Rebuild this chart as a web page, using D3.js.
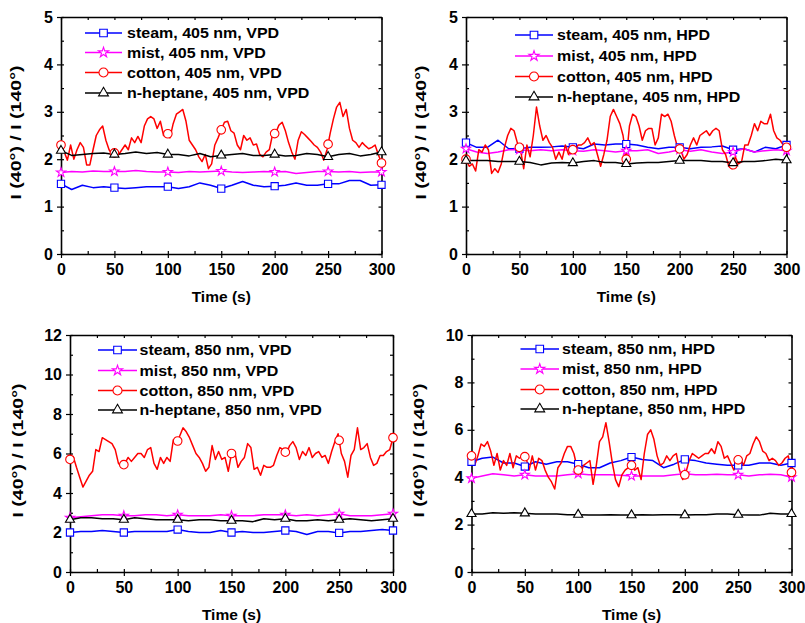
<!DOCTYPE html>
<html><head><meta charset="utf-8">
<script src="https://cdn.jsdelivr.net/npm/d3@7/dist/d3.min.js"></script>
<style>
body{margin:0;background:#fff}
svg{display:block}
text{font-family:"Liberation Sans",Arial,sans-serif;font-weight:bold;fill:#000}
.tick text{font-size:16px}
.domain{stroke:#000;stroke-width:1.6}
.tick line{stroke:#000;stroke-width:1.2}
</style>
</head><body>
<svg id="c" width="805" height="623"></svg>
<script>
// ---------- data ----------
const timeFine = d3.range(0, 301, 3);     // sample times (s) of the cotton traces
const timeCoarse = d3.range(0, 301, 10);  // sample times (s) of the smoother traces
const xTicks = [0, 50, 100, 150, 200, 250, 300];
const yTicks405 = [0, 1, 2, 3, 4, 5];
const yTicks850V = [0, 2, 4, 6, 8, 10, 12];
const yTicks850H = [0, 2, 4, 6, 8, 10];
const seriesNames = ["steam", "mist", "cotton", "n-heptane"];
const seriesColors = ["#0000ff", "#ff00ff", "#ff0000", "#000000"];
const panelLabels = ["405 nm, VPD", "405 nm, HPD", "850 nm, VPD", "850 nm, HPD"];
const xTitle = "Time (s)";
const yTitle = "I (40°) / I (140°)";

// 405 nm, VPD
const steam405V = [1.48,1.36,1.45,1.40,1.42,1.40,1.38,1.40,1.42,1.42,1.42,1.38,1.42,1.50,1.45,1.38,1.45,1.53,1.45,1.42,1.43,1.45,1.50,1.45,1.45,1.48,1.48,1.55,1.55,1.45,1.46];
const mist405V = [1.72,1.74,1.73,1.75,1.74,1.74,1.74,1.76,1.74,1.73,1.73,1.72,1.74,1.73,1.74,1.75,1.73,1.72,1.73,1.74,1.73,1.74,1.70,1.72,1.74,1.74,1.73,1.74,1.72,1.73,1.73];
const cotton405V = [2.30,2.15,1.98,2.30,2.00,2.20,2.35,2.25,1.88,1.88,
 2.20,2.50,2.62,2.70,2.40,2.20,2.10,2.15,2.10,2.20,
 2.30,2.20,2.45,2.35,2.48,2.35,2.70,2.85,2.90,2.85,
 2.65,2.80,2.50,2.58,2.45,2.75,2.95,3.00,3.05,2.80,
 2.40,2.30,2.20,2.05,1.95,2.10,1.80,1.90,2.30,2.45,
 2.62,2.78,2.80,2.60,2.55,2.30,2.20,2.50,2.40,2.45,
 2.30,2.32,2.10,2.05,2.15,2.20,2.52,2.55,2.72,2.78,
 2.60,2.35,2.15,2.00,2.40,2.58,2.52,2.45,2.38,2.30,
 2.25,2.15,1.98,2.20,2.55,2.85,3.10,3.20,2.90,3.05,
 2.65,2.40,2.35,2.25,2.35,2.28,2.22,2.25,2.30,2.10,
 1.92];
const hept405V = [2.18,2.08,2.10,2.12,2.13,2.10,2.12,2.15,2.12,2.14,2.10,2.10,2.07,2.12,2.05,2.08,2.10,2.12,2.08,2.08,2.10,2.07,2.08,2.12,2.10,2.05,2.10,2.12,2.07,2.10,2.15];

// 405 nm, HPD
const steam405H = [2.35,2.25,2.25,2.40,2.22,2.22,2.25,2.25,2.26,2.28,2.25,2.22,2.32,2.30,2.32,2.32,2.30,2.25,2.22,2.25,2.25,2.22,2.25,2.26,2.28,2.20,2.22,2.15,2.25,2.22,2.30];
const mist405H = [2.22,2.15,2.12,2.15,2.20,2.20,2.18,2.20,2.18,2.20,2.18,2.17,2.20,2.18,2.15,2.18,2.18,2.20,2.12,2.15,2.20,2.17,2.20,2.15,2.12,2.15,2.22,2.15,2.18,2.20,2.18];
const cotton405H = [2.00,1.85,1.90,1.75,2.20,2.15,2.30,2.20,1.70,1.80,
 1.72,1.90,2.25,2.50,2.65,2.60,2.35,2.20,1.80,2.30,
 2.05,2.50,3.10,2.70,2.40,2.50,2.35,2.25,2.00,2.15,
 2.00,2.30,2.10,2.20,2.20,2.30,2.30,2.35,2.45,2.30,
 2.35,2.10,1.85,2.10,2.40,2.90,3.05,2.90,2.75,2.50,
 2.00,2.70,2.95,2.90,2.70,2.40,2.60,2.65,2.65,2.30,
 2.45,2.95,2.90,2.95,2.80,2.50,2.25,2.20,2.00,2.10,
 2.30,2.45,2.30,2.50,2.55,2.60,2.50,2.60,2.65,2.60,
 2.20,2.10,1.85,1.80,2.05,1.90,1.95,2.30,2.30,2.50,
 2.75,2.60,2.80,2.75,2.75,2.95,2.60,2.45,2.40,2.30,
 2.25];
const hept405H = [1.97,1.97,1.97,1.95,1.95,1.95,1.93,1.88,1.92,1.93,1.92,1.95,1.97,1.93,1.93,1.90,1.92,1.93,1.93,1.95,1.97,1.97,1.97,1.95,1.95,1.92,1.95,1.95,1.97,2.00,1.98];

// 850 nm, VPD
const steam850V = [2.00,2.05,2.05,2.10,2.05,2.00,2.05,2.05,2.05,2.05,2.15,2.05,2.00,2.00,2.10,2.00,2.05,2.00,2.00,2.05,2.10,2.05,1.90,2.05,2.05,1.98,2.05,2.05,2.10,2.15,2.10];
const mist850V = [2.75,2.80,2.85,2.90,2.90,2.85,2.85,2.90,2.90,2.85,2.90,2.85,2.85,2.85,2.90,2.85,2.85,2.85,2.90,2.90,2.90,2.85,2.90,2.85,2.90,2.95,2.85,2.85,2.85,2.90,2.95];
const cotton850V = [5.70,5.85,5.30,4.80,4.30,4.60,4.90,5.10,6.20,6.10,
 6.80,6.70,6.60,6.50,6.20,5.50,5.30,5.50,5.80,5.60,
 5.80,6.00,6.00,5.80,6.20,6.30,5.50,5.20,5.80,5.50,
 5.80,5.60,6.70,6.50,6.90,7.30,7.10,6.80,6.40,6.00,
 5.80,5.50,5.10,5.30,6.40,5.70,6.10,5.70,5.80,5.10,
 6.00,6.10,5.30,5.60,5.80,6.50,6.30,5.20,5.30,4.90,
 5.40,5.30,5.30,5.40,5.90,6.30,6.20,6.00,6.40,6.60,
 6.30,5.70,6.10,5.90,6.30,5.80,6.00,6.10,5.80,5.90,
 5.50,6.10,6.60,7.00,6.00,5.60,4.80,5.90,6.20,7.30,
 6.20,6.30,6.50,5.80,5.40,5.50,5.90,5.90,6.10,6.20,
 6.80];
const hept850V = [2.65,2.75,2.75,2.70,2.70,2.65,2.75,2.70,2.65,2.65,2.65,2.60,2.65,2.65,2.60,2.60,2.60,2.55,2.70,2.65,2.70,2.60,2.60,2.65,2.60,2.65,2.70,2.65,2.60,2.65,2.70];

// 850 nm, HPD
const steam850H = [4.65,4.80,4.85,4.60,4.60,4.45,4.65,4.55,4.65,4.65,4.55,4.40,4.40,4.60,4.70,4.85,4.75,4.70,4.40,4.55,4.75,4.70,4.60,4.55,4.50,4.50,4.50,4.60,4.60,4.50,4.60];
const mist850H = [3.95,4.05,4.15,4.10,4.05,4.10,4.05,4.05,4.05,4.10,4.15,4.10,4.10,4.10,4.08,4.05,4.05,4.05,4.05,4.10,4.15,4.10,4.10,4.12,4.10,4.10,4.05,4.10,4.12,4.10,4.00];
const cotton850H = [4.90,4.50,4.90,5.40,5.30,5.50,5.10,4.50,5.00,4.30,
 4.70,4.50,5.00,4.40,4.90,4.80,4.90,4.85,4.30,4.90,
 4.30,4.80,4.70,4.30,4.00,3.80,3.50,4.40,4.60,5.00,
 5.30,5.30,5.00,4.40,4.10,4.50,4.60,4.70,3.70,4.50,
 5.50,5.70,6.30,5.50,4.60,3.90,3.60,4.10,4.30,4.40,
 4.50,4.30,4.40,3.90,5.00,5.80,6.00,5.60,4.90,4.50,
 4.60,4.90,4.70,4.90,5.00,4.30,3.90,4.20,4.70,5.00,
 4.90,4.80,4.90,5.00,5.00,5.20,5.00,5.50,5.30,4.80,
 4.90,4.60,4.30,4.70,4.80,4.50,4.90,5.00,5.40,5.70,
 5.50,5.10,5.00,4.70,4.80,4.70,4.50,4.60,4.80,4.90,
 4.20];
const hept850H = [2.45,2.45,2.50,2.48,2.50,2.48,2.45,2.45,2.45,2.42,2.42,2.40,2.40,2.42,2.40,2.40,2.42,2.40,2.42,2.42,2.40,2.42,2.42,2.45,2.45,2.42,2.40,2.40,2.48,2.45,2.45];

// ---------- layout ----------
const symbols = [d3.symbolSquare, d3.symbolStar, d3.symbolCircle, d3.symbolTriangle];
const symSizes = [52, 26, 58, 36];
const seriesTimes = [timeCoarse, timeCoarse, timeFine, timeCoarse];

const panels = [
  {box:[61,381.5,17,254], yMax:5, yTicks:yTicks405, yMinor:0.5, data:[steam405V,mist405V,cotton405V,hept405V],
   leg:{x0:85,x1:122,xt:127,rows:[33,52.5,72.5,93]}, yTitleX:15},
  {box:[466,786.5,17,254], yMax:5, yTicks:yTicks405, yMinor:0.5, data:[steam405H,mist405H,cotton405H,hept405H],
   leg:{x0:515,x1:553,xt:557,rows:[35,56,76.5,97]}, yTitleX:420},
  {box:[70,393,335,572], yMax:12, yTicks:yTicks850V, yMinor:1, data:[steam850V,mist850V,cotton850V,hept850V],
   leg:{x0:98,x1:137,xt:139.5,rows:[350,370.5,390.5,410]}, yTitleX:17},
  {box:[471.5,791.5,335,572], yMax:10, yTicks:yTicks850H, yMinor:1, data:[steam850H,mist850H,cotton850H,hept850H],
   leg:{x0:520.5,x1:559,xt:562,rows:[349,369,389.5,409]}, yTitleX:418}
];

const svg = d3.select("#c");

function valueAt(times, vals, t) {
  const i = d3.bisectLeft(times, t);
  if (times[i] === t) return vals[i];
  const t0 = times[i-1], t1 = times[i];
  return vals[i-1] + (vals[i]-vals[i-1]) * (t-t0)/(t1-t0);
}

panels.forEach((p, pi) => {
  const [L, R, T, B] = p.box;
  const x = d3.scaleLinear([0, 300], [L, R]);
  const y = d3.scaleLinear([0, p.yMax], [B, T]);
  const g = svg.append("g");
  const xAll = d3.range(0, 301, 25);
  const yAll = d3.range(0, p.yMax + 1e-9, p.yMinor);

  const clean = s => s.attr("font-size", null).attr("font-family", null);

  g.append("g").attr("transform", `translate(0,${B})`)
    .call(d3.axisBottom(x).tickValues(xAll).tickSize(-3).tickFormat(""))
    .call(s => s.select(".domain").remove());
  g.append("g").attr("transform", `translate(${L},0)`)
    .call(d3.axisLeft(y).tickValues(yAll).tickSize(-3).tickFormat(""))
    .call(s => s.select(".domain").remove());
  g.append("g").attr("transform", `translate(0,${T})`)
    .call(d3.axisTop(x).tickValues(xAll).tickSize(-3).tickSizeOuter(0).tickFormat(""));
  g.append("g").attr("transform", `translate(${R},0)`)
    .call(d3.axisRight(y).tickValues(yAll).tickSize(-3).tickSizeOuter(0).tickFormat(""));
  g.append("g").attr("transform", `translate(0,${B})`)
    .call(d3.axisBottom(x).tickValues(xTicks).tickSize(4).tickSizeOuter(0).tickPadding(6).tickFormat(d3.format("d")))
    .call(clean);
  g.append("g").attr("transform", `translate(${L},0)`)
    .call(d3.axisLeft(y).tickValues(p.yTicks).tickSize(4).tickSizeOuter(0).tickPadding(4).tickFormat(d3.format("d")))
    .call(clean);

  p.data.forEach((vals, si) => {
    const times = seriesTimes[si];
    const line = d3.line().x((d, i) => x(times[i])).y(d => y(d));
    g.append("path").datum(vals)
      .attr("d", line)
      .attr("fill", "none")
      .attr("stroke", seriesColors[si])
      .attr("stroke-width", 1.5)
      .attr("stroke-linejoin", "round");
  });
  p.data.forEach((vals, si) => {
    const times = seriesTimes[si];
    g.append("g").selectAll("path").data(xTicks).join("path")
      .attr("transform", t => `translate(${x(t)},${y(valueAt(times, vals, t))})`)
      .attr("d", d3.symbol().type(symbols[si]).size(symSizes[si]))
      .attr("fill", "#fff")
      .attr("stroke", seriesColors[si])
      .attr("stroke-width", 1.1);
  });

  seriesNames.forEach((name, si) => {
    const ry = p.leg.rows[si];
    const c = seriesColors[si];
    g.append("line").attr("x1", p.leg.x0).attr("x2", p.leg.x1).attr("y1", ry).attr("y2", ry)
      .attr("stroke", c).attr("stroke-width", 1.5);
    g.append("path")
      .attr("transform", `translate(${(p.leg.x0 + p.leg.x1) / 2},${ry})`)
      .attr("d", d3.symbol().type(symbols[si]).size(symSizes[si] + 6))
      .attr("fill", "#fff").attr("stroke", c).attr("stroke-width", 1.1);
    g.append("text")
      .attr("transform", `translate(${p.leg.xt},${ry + 5}) scale(1.145,1)`)
      .attr("font-size", 14)
      .text(`${name}, ${panelLabels[pi]}`);
  });

  g.append("text").attr("x", (L + R) / 2).attr("y", B + 48)
    .attr("text-anchor", "middle").attr("font-size", 15.5).text(xTitle);
  g.append("text")
    .attr("transform", `translate(${p.yTitleX},${(T + B) / 2 - 3}) rotate(-90)`)
    .attr("text-anchor", "middle").attr("dy", "0.36em").attr("font-size", 15.5)
    .attr("textLength", 134).attr("lengthAdjust", "spacingAndGlyphs")
    .text(yTitle);
});
</script>
</body></html>
